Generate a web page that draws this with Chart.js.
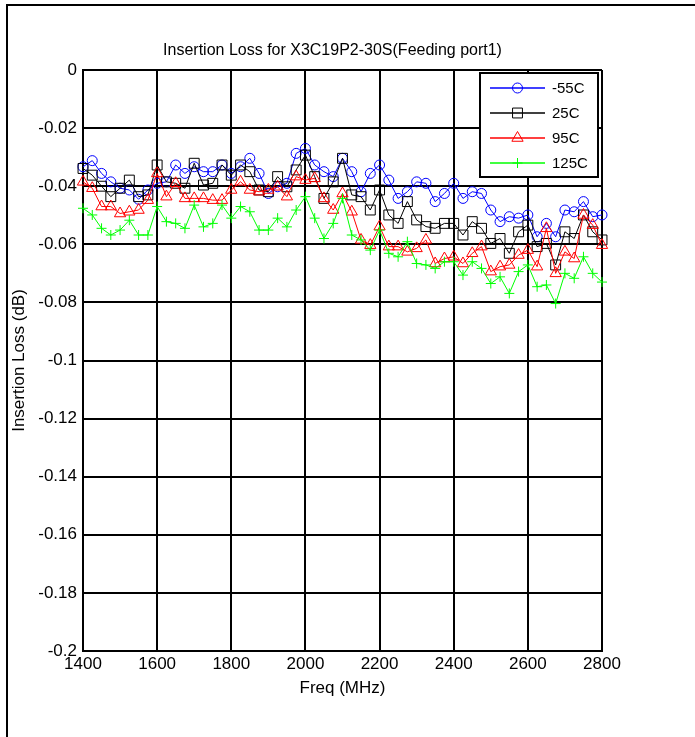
<!DOCTYPE html>
<html>
<head>
<meta charset="utf-8">
<title>Insertion Loss for X3C19P2-30S</title>
<script src="https://cdn.jsdelivr.net/npm/chart.js@4.4.1/dist/chart.umd.min.js"></script>
<style>
html, body { margin: 0; padding: 0; background: #fff; }
#wrap { width: 695px; height: 737px; }
</style>
</head>
<body>
<div id="wrap"><canvas id="loss" width="695" height="737"></canvas></div>
<script>
// DATA (25 MHz steps)
const FREQ = [1400, 1425, 1450, 1475, 1500, 1525, 1550, 1575, 1600, 1625,
	1650, 1675, 1700, 1725, 1750, 1775, 1800, 1825, 1850, 1875,
	1900, 1925, 1950, 1975, 2000, 2025, 2050, 2075, 2100, 2125,
	2150, 2175, 2200, 2225, 2250, 2275, 2300, 2325, 2350, 2375,
	2400, 2425, 2450, 2475, 2500, 2525, 2550, 2575, 2600, 2625,
	2650, 2675, 2700, 2725, 2750, 2775, 2800];

const LOSS_M55 = [-0.0333, -0.0312, -0.0356, -0.0385, -0.0407, -0.0413, -0.0445, -0.0413, -0.0390, -0.0385,
	-0.0327, -0.0356, -0.0333, -0.0350, -0.0350, -0.0327, -0.0356, -0.0333, -0.0304, -0.0356,
	-0.0425, -0.0402, -0.0390, -0.0287, -0.0270, -0.0327, -0.0350, -0.0367, -0.0304, -0.0350,
	-0.0419, -0.0356, -0.0327, -0.0379, -0.0442, -0.0419, -0.0385, -0.0390, -0.0453, -0.0425,
	-0.0390, -0.0442, -0.0419, -0.0425, -0.0482, -0.0522, -0.0505, -0.0510, -0.0499, -0.0574,
	-0.0528, -0.0574, -0.0482, -0.0488, -0.0453, -0.0505, -0.0499];

const LOSS_25 = [-0.0339, -0.0362, -0.0400, -0.0436, -0.0407, -0.0379, -0.0436, -0.0430, -0.0327, -0.0385,
	-0.0390, -0.0407, -0.0321, -0.0396, -0.0390, -0.0327, -0.0362, -0.0327, -0.0350, -0.0413,
	-0.0419, -0.0367, -0.0402, -0.0344, -0.0293, -0.0367, -0.0442, -0.0385, -0.0304, -0.0430,
	-0.0436, -0.0482, -0.0413, -0.0499, -0.0528, -0.0453, -0.0516, -0.0539, -0.0545, -0.0528,
	-0.0528, -0.0568, -0.0522, -0.0545, -0.0597, -0.0580, -0.0631, -0.0557, -0.0534, -0.0608,
	-0.0597, -0.0671, -0.0557, -0.0580, -0.0499, -0.0557, -0.0585];

const LOSS_95 = [-0.0385, -0.0407, -0.0470, -0.0470, -0.0494, -0.0488, -0.0482, -0.0448, -0.0356, -0.0436,
	-0.0390, -0.0442, -0.0442, -0.0442, -0.0448, -0.0448, -0.0413, -0.0385, -0.0413, -0.0419,
	-0.0413, -0.0402, -0.0436, -0.0367, -0.0379, -0.0373, -0.0442, -0.0482, -0.0425, -0.0488,
	-0.0585, -0.0603, -0.0539, -0.0608, -0.0608, -0.0626, -0.0614, -0.0585, -0.0666, -0.0649,
	-0.0643, -0.0666, -0.0631, -0.0608, -0.0694, -0.0677, -0.0671, -0.0637, -0.0620, -0.0677,
	-0.0545, -0.0700, -0.0626, -0.0649, -0.0499, -0.0534, -0.0603];

const LOSS_125 = [-0.0476, -0.0499, -0.0545, -0.0568, -0.0551, -0.0517, -0.0568, -0.0568, -0.0470, -0.0522,
	-0.0528, -0.0545, -0.0465, -0.0540, -0.0528, -0.0465, -0.0510, -0.0470, -0.0488, -0.0551,
	-0.0551, -0.0510, -0.0540, -0.0482, -0.0436, -0.0510, -0.0580, -0.0528, -0.0442, -0.0568,
	-0.0585, -0.0620, -0.0551, -0.0631, -0.0643, -0.0591, -0.0666, -0.0671, -0.0683, -0.0660,
	-0.0660, -0.0706, -0.0660, -0.0683, -0.0735, -0.0712, -0.0769, -0.0694, -0.0671, -0.0746,
	-0.0740, -0.0804, -0.0700, -0.0717, -0.0643, -0.0700, -0.0730];

const SERIES_NAMES = ['-55C', '25C', '95C', '125C'];
const SERIES_COLORS = ['#0000ff', '#000000', '#ff0000', '#00ff00'];
const SERIES_MARKERS = ['circle', 'rect', 'triangle', 'cross'];
const MARKER_SIZES = [5, 7, 6.5, 5];

const FONT = "'Liberation Sans', Arial, Helvetica, sans-serif";

// pairs freq with a loss list
function toPoints(values) {
	return FREQ.map((f, i) => ({ x: f, y: values[i] }));
}

// marker drawing for the legend box
function drawMarker(ctx, style, x, y, r) {
	ctx.beginPath();
	if (style === 'circle') {
		ctx.arc(x, y, r, 0, Math.PI * 2);
	} else if (style === 'rect') {
		const s = r * Math.SQRT1_2;
		ctx.rect(x - s, y - s, 2 * s, 2 * s);
	} else if (style === 'triangle') {
		const a = 2 * Math.PI / 3;
		ctx.moveTo(x, y - r);
		ctx.lineTo(x + r * Math.sin(a), y - r * Math.cos(a));
		ctx.lineTo(x - r * Math.sin(a), y - r * Math.cos(a));
		ctx.closePath();
	} else if (style === 'cross') {
		ctx.moveTo(x, y - r);
		ctx.lineTo(x, y + r);
		ctx.moveTo(x - r, y);
		ctx.lineTo(x + r, y);
	}
	ctx.stroke();
}

// figure frame, title and boxed legend
const figurePlugin = {
	id: 'figure',
	beforeDraw(chart) {
		const ctx = chart.ctx;
		ctx.save();
		ctx.fillStyle = '#ffffff';
		ctx.fillRect(0, 0, chart.width, chart.height);
		ctx.fillStyle = '#000000';
		ctx.fillRect(6, 4, chart.width - 6, 2);
		ctx.fillRect(6, 4, 2, chart.height - 4);
		ctx.restore();
	},
	afterDraw(chart) {
		const ctx = chart.ctx;
		ctx.save();
		//TITLE
		ctx.fillStyle = '#000000';
		ctx.font = '16px ' + FONT;
		ctx.textAlign = 'center';
		ctx.textBaseline = 'alphabetic';
		ctx.fillText('Insertion Loss for X3C19P2-30S(Feeding port1)', 332.5, 54.5);
		//LEGEND
		ctx.fillStyle = '#ffffff';
		ctx.fillRect(480, 73, 118, 104);
		ctx.strokeStyle = '#000000';
		ctx.lineWidth = 2;
		ctx.strokeRect(480, 73, 118, 104);
		ctx.font = '15px ' + FONT;
		ctx.textAlign = 'left';
		ctx.textBaseline = 'middle';
		for (let k = 0; k < SERIES_NAMES.length; k++) {
			const y = Math.round(88 + k * 24.9);
			ctx.strokeStyle = SERIES_COLORS[k];
			ctx.lineWidth = 1.5;
			ctx.beginPath();
			ctx.moveTo(490, y);
			ctx.lineTo(545, y);
			ctx.stroke();
			ctx.lineWidth = 1;
			drawMarker(ctx, SERIES_MARKERS[k], 517.5, y, MARKER_SIZES[k]);
			ctx.fillStyle = '#000000';
			ctx.fillText(SERIES_NAMES[k], 552, y + 1);
		}
		ctx.restore();
	}
};

const lossSets = [LOSS_M55, LOSS_25, LOSS_95, LOSS_125].map((vals, k) => ({
	label: SERIES_NAMES[k],
	data: toPoints(vals),
	borderColor: SERIES_COLORS[k],
	borderWidth: 1,
	pointStyle: SERIES_MARKERS[k],
	pointRadius: MARKER_SIZES[k],
	pointBorderColor: SERIES_COLORS[k],
	pointBackgroundColor: 'rgba(0,0,0,0)',
	pointBorderWidth: 1,
	tension: 0,
	clip: false,
	order: 4 - k
}));

const ctx = document.getElementById('loss').getContext('2d');
const lossChart = new Chart(ctx, {
	type: 'line',
	data: { datasets: lossSets },
	options: {
		responsive: false,
		animation: false,
		devicePixelRatio: 1,
		events: [],
		layout: { padding: { top: 70, right: 93, left: 0, bottom: 0 } },
		plugins: {
			legend: { display: false },
			title: { display: false },
			tooltip: { enabled: false }
		},
		scales: {
			x: {
				type: 'linear',
				min: 1400,
				max: 2800,
				afterFit: (s) => { s.height = 86; },
				grid: { color: '#000000', lineWidth: 2, drawTicks: false },
				border: { display: true, color: '#000000', width: 2 },
				ticks: {
					stepSize: 200,
					autoSkip: false,
					maxRotation: 0,
					padding: 3,
					color: '#000000',
					font: { family: FONT, size: 17 },
					callback: (v) => String(v)
				},
				title: {
					display: true,
					text: 'Freq (MHz)',
					color: '#000000',
					font: { family: FONT, size: 17 },
					padding: { top: 0, bottom: 38.5 }
				}
			},
			y: {
				type: 'linear',
				min: -0.2,
				max: 0,
				afterFit: (s) => { s.width = 83; },
				grid: { color: '#000000', lineWidth: 2, drawTicks: false },
				border: { display: true, color: '#000000', width: 2 },
				ticks: {
					stepSize: 0.02,
					autoSkip: false,
					padding: 6,
					color: '#000000',
					font: { family: FONT, size: 17 },
					callback: (v) => String(Number(v.toFixed(2)))
				},
				title: {
					display: true,
					text: 'Insertion Loss (dB)',
					color: '#000000',
					font: { family: FONT, size: 17 },
					padding: { top: 9.3, bottom: 0 }
				}
			}
		}
	},
	plugins: [figurePlugin]
});
</script>
</body>
</html>
